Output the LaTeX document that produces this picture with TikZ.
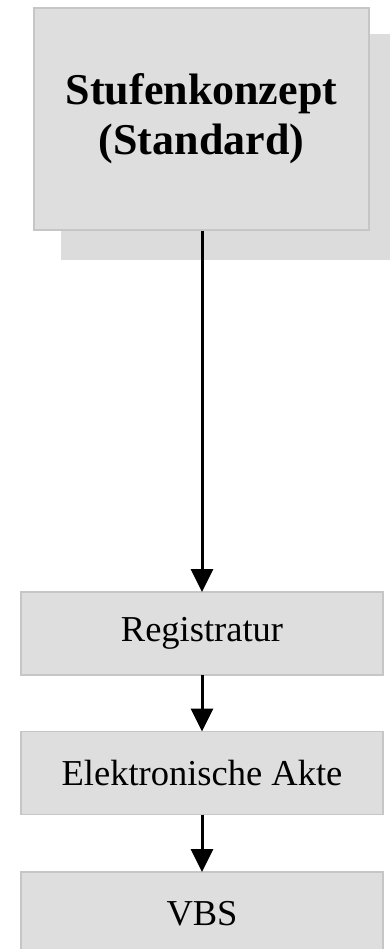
\documentclass[tikz,border=0pt]{standalone}
\usepackage{fontspec}
\setmainfont{Liberation Serif}
\usetikzlibrary{arrows.meta}
\definecolor{boxfill}{HTML}{DEDEDE}
\definecolor{boxline}{HTML}{C6C6C6}
\definecolor{shadowfill}{HTML}{DCDCDC}
\tikzset{
  stepbox/.style={draw=boxline, line width=1.5pt, fill=boxfill, inner sep=0pt, outer sep=0pt, minimum width=362pt, minimum height=83pt, font=\fontsize{36.5}{40}\selectfont},
  conn/.style={line width=3pt, -{Triangle[width=22pt,length=23pt]}},
}
\begin{document}
\begin{tikzpicture}[x=1pt,y=-1pt]
\useasboundingbox (0,0) rectangle (390,949);
\fill[white] (0,0) rectangle (390,949);
% shadow of top box
\fill[shadowfill] (61,34) rectangle (392,260);
\node[draw=boxline, line width=1.5pt, fill=boxfill, inner sep=0pt, minimum width=335pt, minimum height=222pt, align=center, font=\fontsize{44}{50}\selectfont\bfseries] (top) at (201.5,119) {Stufenkonzept\\(Standard)};
\node[stepbox] (reg) at (202,633.5) {Registratur};
\node[stepbox] (akte) at (202,773) {Elektronische Akte};
\node[stepbox] (vbs) at (202,913.5) {VBS};
\draw[conn] (top.south -| reg.north) -- (reg.north);
\draw[conn] (reg.south) -- (akte.north);
\draw[conn] (akte.south) -- (vbs.north);
\end{tikzpicture}
\end{document}
